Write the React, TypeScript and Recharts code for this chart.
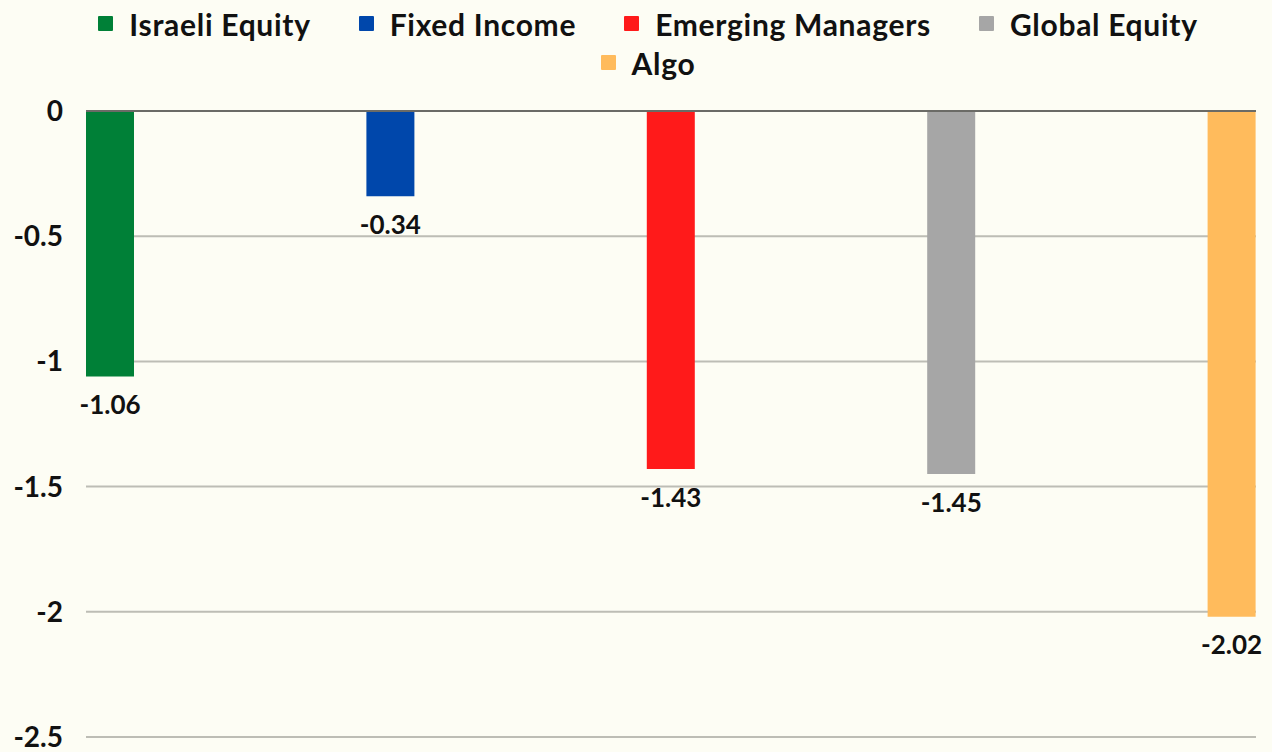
import React from 'react';
import { BarChart, Bar, XAxis, YAxis, CartesianGrid, Legend, ReferenceLine, LabelList } from 'recharts';

const seriesNames = ['Israeli Equity', 'Fixed Income', 'Emerging Managers', 'Global Equity', 'Algo'];
const seriesValues = [-1.06, -0.34, -1.43, -1.45, -2.02];
const seriesColors = ['#008037', '#0047AB', '#FF1A1A', '#A6A6A6', '#FFBB5C'];
const yTicks = [0, -0.5, -1, -1.5, -2, -2.5];

const row: Record<string, number | string> = { name: 'Returns' };
seriesNames.forEach((n, i) => { row[n] = seriesValues[i]; });
const data = [row];

const FONT = 'Lato, "Noto Sans", sans-serif';

const renderLegend = (props: any) => {
  const payload = [...(props.payload || [])].sort(
    (a: any, b: any) => seriesNames.indexOf(a.value) - seriesNames.indexOf(b.value)
  );
  return (
    <div style={{ display: 'flex', flexWrap: 'wrap', justifyContent: 'center', width: 1200, margin: '0 auto', paddingLeft: 24, boxSizing: 'border-box', fontFamily: FONT }}>
      {payload.map((p: any) => (
        <div key={p.value} style={{ display: 'flex', alignItems: 'center', margin: '0 24px', height: 39 }}>
          <span style={{ display: 'inline-block', width: 15, height: 15, background: p.color, marginRight: 16, borderRadius: 1 }} />
          <span style={{ fontWeight: 700, fontSize: 30, letterSpacing: 0.7, color: '#111' }}>{p.value}</span>
        </div>
      ))}
    </div>
  );
};

export default function App() {
  return (
    <div style={{ position: 'fixed', left: 0, top: 0, width: 1272, height: 752, background: '#FDFDF4' }}>
      <BarChart
        width={1272}
        height={752}
        data={data}
        margin={{ top: 26, right: 16, bottom: 15, left: 0 }}
        barCategoryGap={0}
        barGap={232.4}
        barSize={48}
      >
        <CartesianGrid vertical={false} stroke="#BDBDB5" strokeWidth={2} />
        <XAxis dataKey="name" hide />
        <YAxis
          domain={[-2.5, 0]}
          ticks={yTicks}
          width={86}
          axisLine={false}
          tickLine={false}
          tickMargin={17}
          interval={0}
          tick={{ fill: '#111', fontSize: 28, fontWeight: 700, fontFamily: FONT }}
        />
        <Legend
          verticalAlign="top"
          itemSorter={null as any}
          content={renderLegend}
          wrapperStyle={{ top: 4, left: 0, width: 1272, height: 85 }}
        />
        {seriesNames.map((n, i) => (
          <Bar key={n} dataKey={n} fill={seriesColors[i]} isAnimationActive={false}>
            <LabelList
              dataKey={n}
              position="top"
              offset={19}
              style={{ fill: '#111', fontSize: 26, fontWeight: 700, fontFamily: FONT }}
            />
          </Bar>
        ))}
        <ReferenceLine y={0} stroke="#6B6B66" strokeWidth={2} />
      </BarChart>
    </div>
  );
}
